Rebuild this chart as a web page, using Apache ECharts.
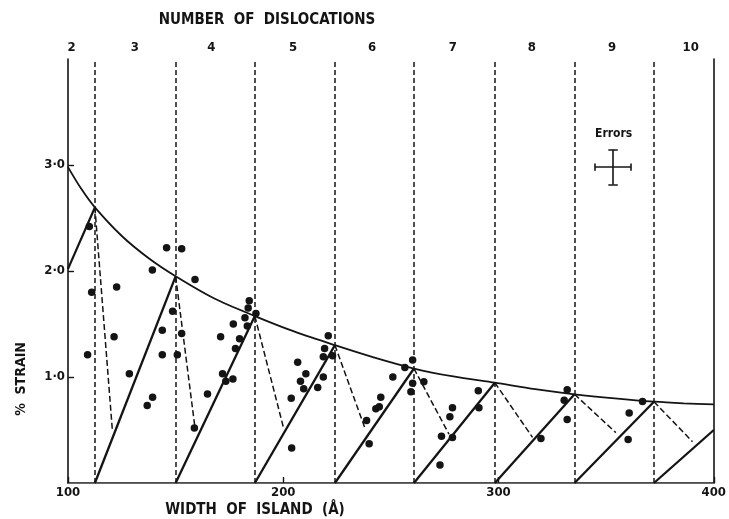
<!DOCTYPE html>
<html>
<head>
<meta charset="utf-8">
<script src="https://cdn.jsdelivr.net/npm/echarts@6/dist/echarts.min.js"></script>
<style>
  html, body { margin: 0; padding: 0; background: #ffffff; }
  #chart { width: 729px; height: 519px; }
</style>
</head>
<body>
<div id="chart"></div>
<script>
// Island widths (Å) at which one more misfit dislocation is accommodated
const boundaries = [112.5, 150, 186.8, 224, 260.7, 298.3, 335.3, 372.2];

// Upper envelope: maximum strain (%) an island of a given width can hold
const envelopeWidth  = [100, 106, 112.5, 125, 137.5, 150, 168, 186.8, 205, 224, 242, 260.7, 279, 298.3, 317, 335.3, 354, 372.2, 386, 400];
const envelopeStrain = [2.98, 2.78, 2.60, 2.33, 2.12, 1.95, 1.74, 1.575, 1.43, 1.30, 1.185, 1.08, 1.005, 0.946, 0.885, 0.837, 0.798, 0.767, 0.752, 0.742];

// Strain rising with width inside each dislocation range: [w0, s0, w1, s1]
const risers = [
  [100, 2.02, 112.5, 2.60],
  [112.5, 0, 150, 1.95],
  [150, 0, 186.8, 1.575],
  [186.8, 0, 224, 1.30],
  [224, 0, 260.7, 1.08],
  [260.7, 0, 298.3, 0.946],
  [298.3, 0, 335.3, 0.837],
  [335.3, 0, 372.2, 0.767],
  [372.2, 0, 400, 0.50]
];

// Relaxation after each extra dislocation enters: [w0, s0, w1, s1]
const drops = [
  [112.5, 2.60, 120.6, 0.50],
  [150, 1.95, 159.0, 0.52],
  [186.8, 1.575, 200.0, 0.53],
  [224, 1.30, 237.9, 0.52],
  [260.7, 1.08, 277.0, 0.46],
  [298.3, 0.946, 315.8, 0.43],
  [335.3, 0.837, 354.5, 0.475],
  [372.2, 0.767, 390.1, 0.39]
];

// Measured islands: [width (Å), strain (%)]
const measured = [
  [109.9, 2.42], [111.0, 1.80], [109.1, 1.21],
  [122.6, 1.85], [121.4, 1.38], [128.5, 1.03], [139.3, 0.81], [136.8, 0.73],
  [139.2, 2.01], [145.8, 2.22], [143.8, 1.44], [143.8, 1.21], [148.6, 1.62],
  [152.8, 2.21], [159.0, 1.92], [152.8, 1.41], [150.8, 1.21], [158.7, 0.52],
  [164.8, 0.84], [170.9, 1.38], [171.8, 1.03], [173.3, 0.96], [176.6, 0.98],
  [176.8, 1.50], [177.8, 1.27], [179.7, 1.36], [183.3, 1.48], [182.2, 1.56],
  [183.7, 1.65], [184.2, 1.72], [187.3, 1.60],
  [203.7, 0.80], [203.9, 0.33], [206.7, 1.14], [208.0, 0.96], [209.5, 0.89],
  [210.5, 1.03], [216.0, 0.90], [218.6, 1.00], [218.6, 1.19], [219.2, 1.27],
  [220.9, 1.39], [222.9, 1.20],
  [238.7, 0.59], [239.9, 0.37], [243.0, 0.70], [244.6, 0.72], [245.3, 0.81],
  [250.9, 1.00], [256.5, 1.09], [260.1, 1.16], [260.1, 0.94], [259.3, 0.86],
  [265.3, 0.955],
  [272.8, 0.17], [273.5, 0.44], [277.4, 0.625], [278.6, 0.43], [278.6, 0.71],
  [290.6, 0.87], [290.9, 0.71],
  [319.7, 0.42], [330.5, 0.78], [331.9, 0.88], [331.9, 0.60],
  [360.2, 0.41], [360.7, 0.66], [366.9, 0.77]
];

// Top scale: number of dislocations in each width range
const dislocationCounts = [2, 3, 4, 5, 6, 7, 8, 9, 10];
const dislocationLabelPos = [101.6, 131, 166.6, 204.5, 241.2, 278.8, 315.5, 352.7, 389.3];

// Axis ticks
const xTicks = [100, 200, 300, 400];
const yTicks = [1, 2, 3];

// Typical measurement error, drawn as a cross
const errCenter = [353.2, 2.98];
const errHalfWidth = 8.3;     // Å
const errHalfStrain = 0.165;  // %
const errLabelPos = [353.5, 3.29];

const FONT = "'DejaVu Sans Condensed', 'Liberation Sans Narrow', 'DejaVu Sans', sans-serif";
const INK = '#141414';

const seg = (r) => ({ coords: [[r[0], r[1]], [r[2], r[3]]] });

const errBars = [
  [errCenter[0] - errHalfWidth, errCenter[1], errCenter[0] + errHalfWidth, errCenter[1]],
  [errCenter[0], errCenter[1] - errHalfStrain, errCenter[0], errCenter[1] + errHalfStrain],
  [errCenter[0] - 2.2, errCenter[1] + errHalfStrain, errCenter[0] + 2.2, errCenter[1] + errHalfStrain],
  [errCenter[0] - 2.2, errCenter[1] - errHalfStrain, errCenter[0] + 2.2, errCenter[1] - errHalfStrain],
  [errCenter[0] - errHalfWidth, errCenter[1] - 0.035, errCenter[0] - errHalfWidth, errCenter[1] + 0.035],
  [errCenter[0] + errHalfWidth, errCenter[1] - 0.035, errCenter[0] + errHalfWidth, errCenter[1] + 0.035]
];

function nearestIndex(arr, v) {
  let best = 0;
  for (let i = 1; i < arr.length; i++) {
    if (Math.abs(arr[i] - v) < Math.abs(arr[best] - v)) best = i;
  }
  return best;
}

const chart = echarts.init(document.getElementById('chart'), null, { renderer: 'canvas' });

chart.setOption({
  animation: false,
  backgroundColor: '#ffffff',
  grid: { left: 68, right: 15, top: 59, bottom: 36 },
  xAxis: [
    {
      type: 'value', min: 100, max: 400, interval: 100,
      position: 'bottom',
      axisLine: { show: true, lineStyle: { color: INK, width: 1.6 } },
      axisTick: { show: true, inside: true, length: 6, lineStyle: { color: INK, width: 1.4 }, customValues: xTicks },
      axisLabel: { color: INK, fontFamily: FONT, fontWeight: 'bold', fontSize: 13, margin: 3, customValues: xTicks },
      splitLine: { show: false }
    },
    {
      type: 'value', min: 100, max: 400,
      position: 'top',
      axisLine: { show: true, lineStyle: { color: '#6a6a6a', width: 1.2 } },
      axisTick: { show: false },
      axisLabel: {
        color: INK, fontFamily: FONT, fontWeight: 'bold', fontSize: 13, margin: 5,
        customValues: dislocationLabelPos,
        formatter: (v) => String(dislocationCounts[nearestIndex(dislocationLabelPos, v)])
      },
      splitLine: { show: false }
    }
  ],
  yAxis: [
    {
      type: 'value', min: 0, max: 4, interval: 1,
      position: 'left',
      axisLine: { show: true, lineStyle: { color: INK, width: 1.6 } },
      axisTick: { show: true, inside: true, length: 6, lineStyle: { color: INK, width: 1.4 }, customValues: yTicks },
      axisLabel: {
        color: INK, fontFamily: FONT, fontWeight: 'bold', fontSize: 13, margin: 3,
        customValues: yTicks,
        formatter: (v) => v.toFixed(1).replace('.', '\u00B7')
      },
      splitLine: { show: false }
    },
    {
      type: 'value', min: 0, max: 4,
      position: 'right',
      axisLine: { show: true, lineStyle: { color: INK, width: 1.6 } },
      axisTick: { show: false },
      axisLabel: { show: false },
      splitLine: { show: false }
    }
  ],
  graphic: [
    {
      type: 'text', x: 267, y: 20,
      style: { text: 'NUMBER  OF  DISLOCATIONS', font: 'bold 15px ' + FONT, fill: INK, align: 'center', verticalAlign: 'middle' }
    },
    {
      type: 'text', x: 255, y: 510,
      style: { text: 'WIDTH  OF  ISLAND  (Å)', font: 'bold 15px ' + FONT, fill: INK, align: 'center', verticalAlign: 'middle' }
    },
    {
      type: 'text', x: 21, y: 379, rotation: Math.PI / 2,
      style: { text: '%  STRAIN', font: 'bold 14px ' + FONT, fill: INK, align: 'center', verticalAlign: 'middle' }
    }
  ],
  series: [
    {
      name: 'boundaries', type: 'lines', coordinateSystem: 'cartesian2d',
      xAxisIndex: 0, yAxisIndex: 0, silent: true,
      lineStyle: { color: INK, width: 1.5, type: [5, 3], opacity: 1, curveness: 0 },
      data: boundaries.map((b) => ({ coords: [[b, 0], [b, 4]] }))
    },
    {
      name: 'envelope', type: 'line', xAxisIndex: 0, yAxisIndex: 0,
      data: envelopeWidth.map((w, i) => [w, envelopeStrain[i]]),
      smooth: 0.3, showSymbol: false, symbol: 'none',
      lineStyle: { color: INK, width: 1.8 }
    },
    {
      name: 'risers', type: 'lines', coordinateSystem: 'cartesian2d',
      xAxisIndex: 0, yAxisIndex: 0, silent: true,
      lineStyle: { color: INK, width: 2.3, opacity: 1, curveness: 0 },
      data: risers.map(seg)
    },
    {
      name: 'drops', type: 'lines', coordinateSystem: 'cartesian2d',
      xAxisIndex: 0, yAxisIndex: 0, silent: true,
      lineStyle: { color: INK, width: 1.5, type: [6, 3], opacity: 1, curveness: 0 },
      data: drops.map(seg)
    },
    {
      name: 'measured', type: 'scatter', xAxisIndex: 0, yAxisIndex: 0,
      symbol: 'circle', symbolSize: 7.5,
      itemStyle: { color: INK, opacity: 1 },
      data: measured
    },
    {
      name: 'errors', type: 'lines', coordinateSystem: 'cartesian2d',
      xAxisIndex: 0, yAxisIndex: 0, silent: true,
      lineStyle: { color: INK, width: 1.6, opacity: 1, curveness: 0 },
      data: errBars.map(seg)
    },
    {
      name: 'errorsLabel', type: 'scatter', xAxisIndex: 0, yAxisIndex: 0,
      symbolSize: 0, silent: true,
      itemStyle: { opacity: 1 },
      label: { show: true, position: 'inside', formatter: 'Errors', color: INK, fontFamily: FONT, fontWeight: 'bold', fontSize: 12 },
      data: [errLabelPos]
    }
  ]
});
</script>
</body>
</html>
